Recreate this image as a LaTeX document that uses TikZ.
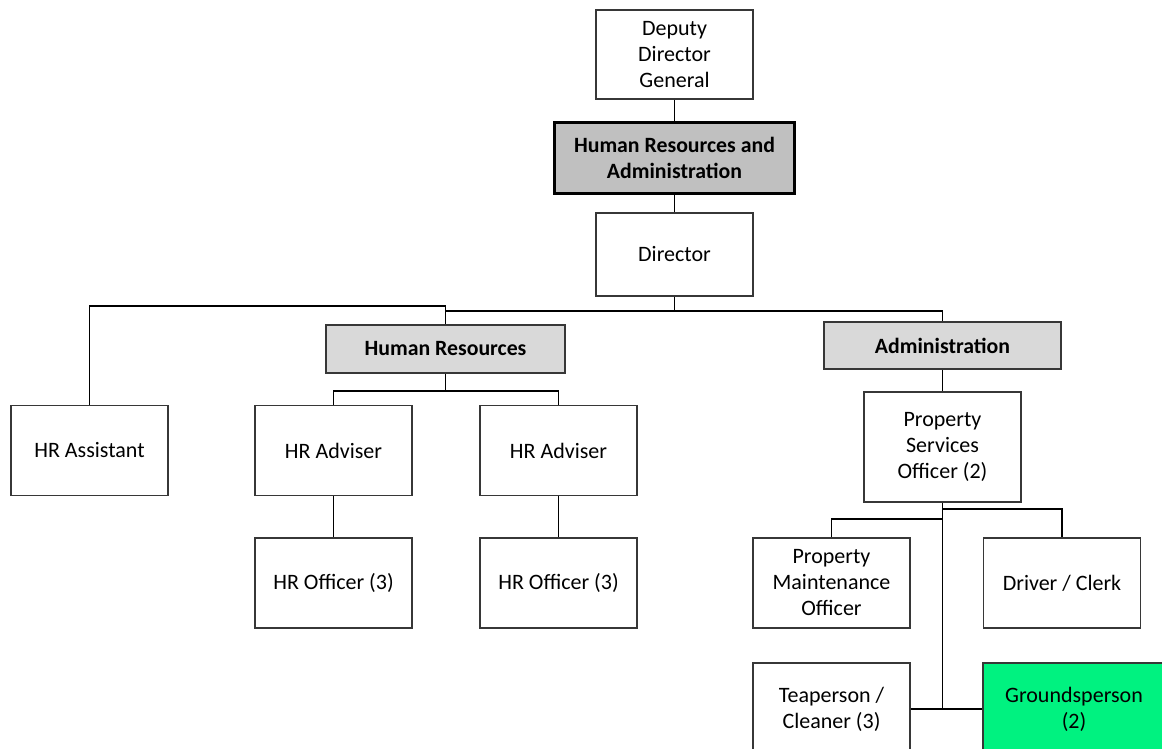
\documentclass[tikz,border=0pt]{standalone}
\usepackage{fontspec}
\setmainfont{Carlito}
\definecolor{headgray}{RGB}{192,192,192}
\definecolor{unitgray}{RGB}{217,217,217}
\definecolor{ground}{RGB}{0,242,128}
\definecolor{edge}{RGB}{55,55,55}

\begin{document}
\begin{tikzpicture}[x=1pt, y=-1pt,
    role/.style={draw=edge, line width=1.8pt, fill=white, align=center, inner sep=0pt,
      minimum width=157pt, minimum height=90pt, font=\fontsize{22}{26}\selectfont},
    unitbox/.style={role, fill=unitgray, minimum width=239pt, minimum height=48pt,
      font=\fontsize{21.8}{26}\selectfont\bfseries},
    headbox/.style={unitbox, fill=headgray, draw=black, line width=3pt,
      minimum width=240pt, minimum height=70pt},
    link/.style={draw=black, line width=1.8pt},
    ]
    \useasboundingbox (0,0) rectangle (1162,749);
    \clip (0,0) rectangle (1162,749);

    % top of the chart
    \node[role, minimum height=89pt] (ddg) at (674.5,54.5) {Deputy\\Director\\General};
    \node[headbox] (hra) at (674.5,158) {Human Resources and\\Administration};
    \node[role, minimum height=83pt] (dir) at (674.5,254.5) {Director};

    % units
    \node[unitbox] (hr) at (445.5,349) {Human Resources};
    \node[unitbox, minimum width=237pt, minimum height=47pt] (adm) at (942.5,345.5) {Administration};

    % human resources side
    \node[role] (asst) at (89.5,450.5) {HR Assistant};
    \node[role] (adv1) at (333.5,450.5) {HR Adviser};
    \node[role] (adv2) at (558.5,450.5) {HR Adviser};
    \node[role] (off1) at (333.5,583) {HR Officer (3)};
    \node[role] (off2) at (558.5,583) {HR Officer (3)};

    % administration side
    \node[role, minimum height=110pt] (pso) at (942.5,447) {Property\\Services\\Officer (2)};
    \node[role] (pmo) at (831.5,583) {Property\\Maintenance\\Officer};
    \node[role] (drv) at (1062,583) {Driver / Clerk};
    \node[role, minimum height=92pt] (tea) at (831.5,709) {Teaperson /\\Cleaner (3)};
    \node[role, fill=ground, minimum width=182pt, minimum height=92pt] (gnd) at (1074,709) {Groundsperson\\(2)};

    % connectors
    \draw[link] (ddg.south) -- (hra.north);
    \draw[link] (hra.south) -- (dir.north);
    \draw[link] (dir.south) -- ++(0,14) coordinate (dirbus) -| (adm.north);
    \draw[link] (dirbus) -| (hr.north);
    \draw[link] (hr.north) -- ++(0,-18) -| (asst.north);
    \draw[link] (hr.south) -- ++(0,17) coordinate (hrbus);
    \draw[link] (adv1.north) |- (hrbus) -| (adv2.north);
    \draw[link] (adv1.south) -- (off1.north);
    \draw[link] (adv2.south) -- (off2.north);
    \draw[link] (adm.south) -- (pso.north);
    \draw[link] (pso.south) -- ++(0,6) -| (drv.north);
    \draw[link] (pmo.north) -- ++(0,-18) -| (pso.south);
    \draw[link] (pso.south) |- (tea.east);
    \draw[link] (pso.south |- tea.east) -- (gnd.west);
\end{tikzpicture}
\end{document}
